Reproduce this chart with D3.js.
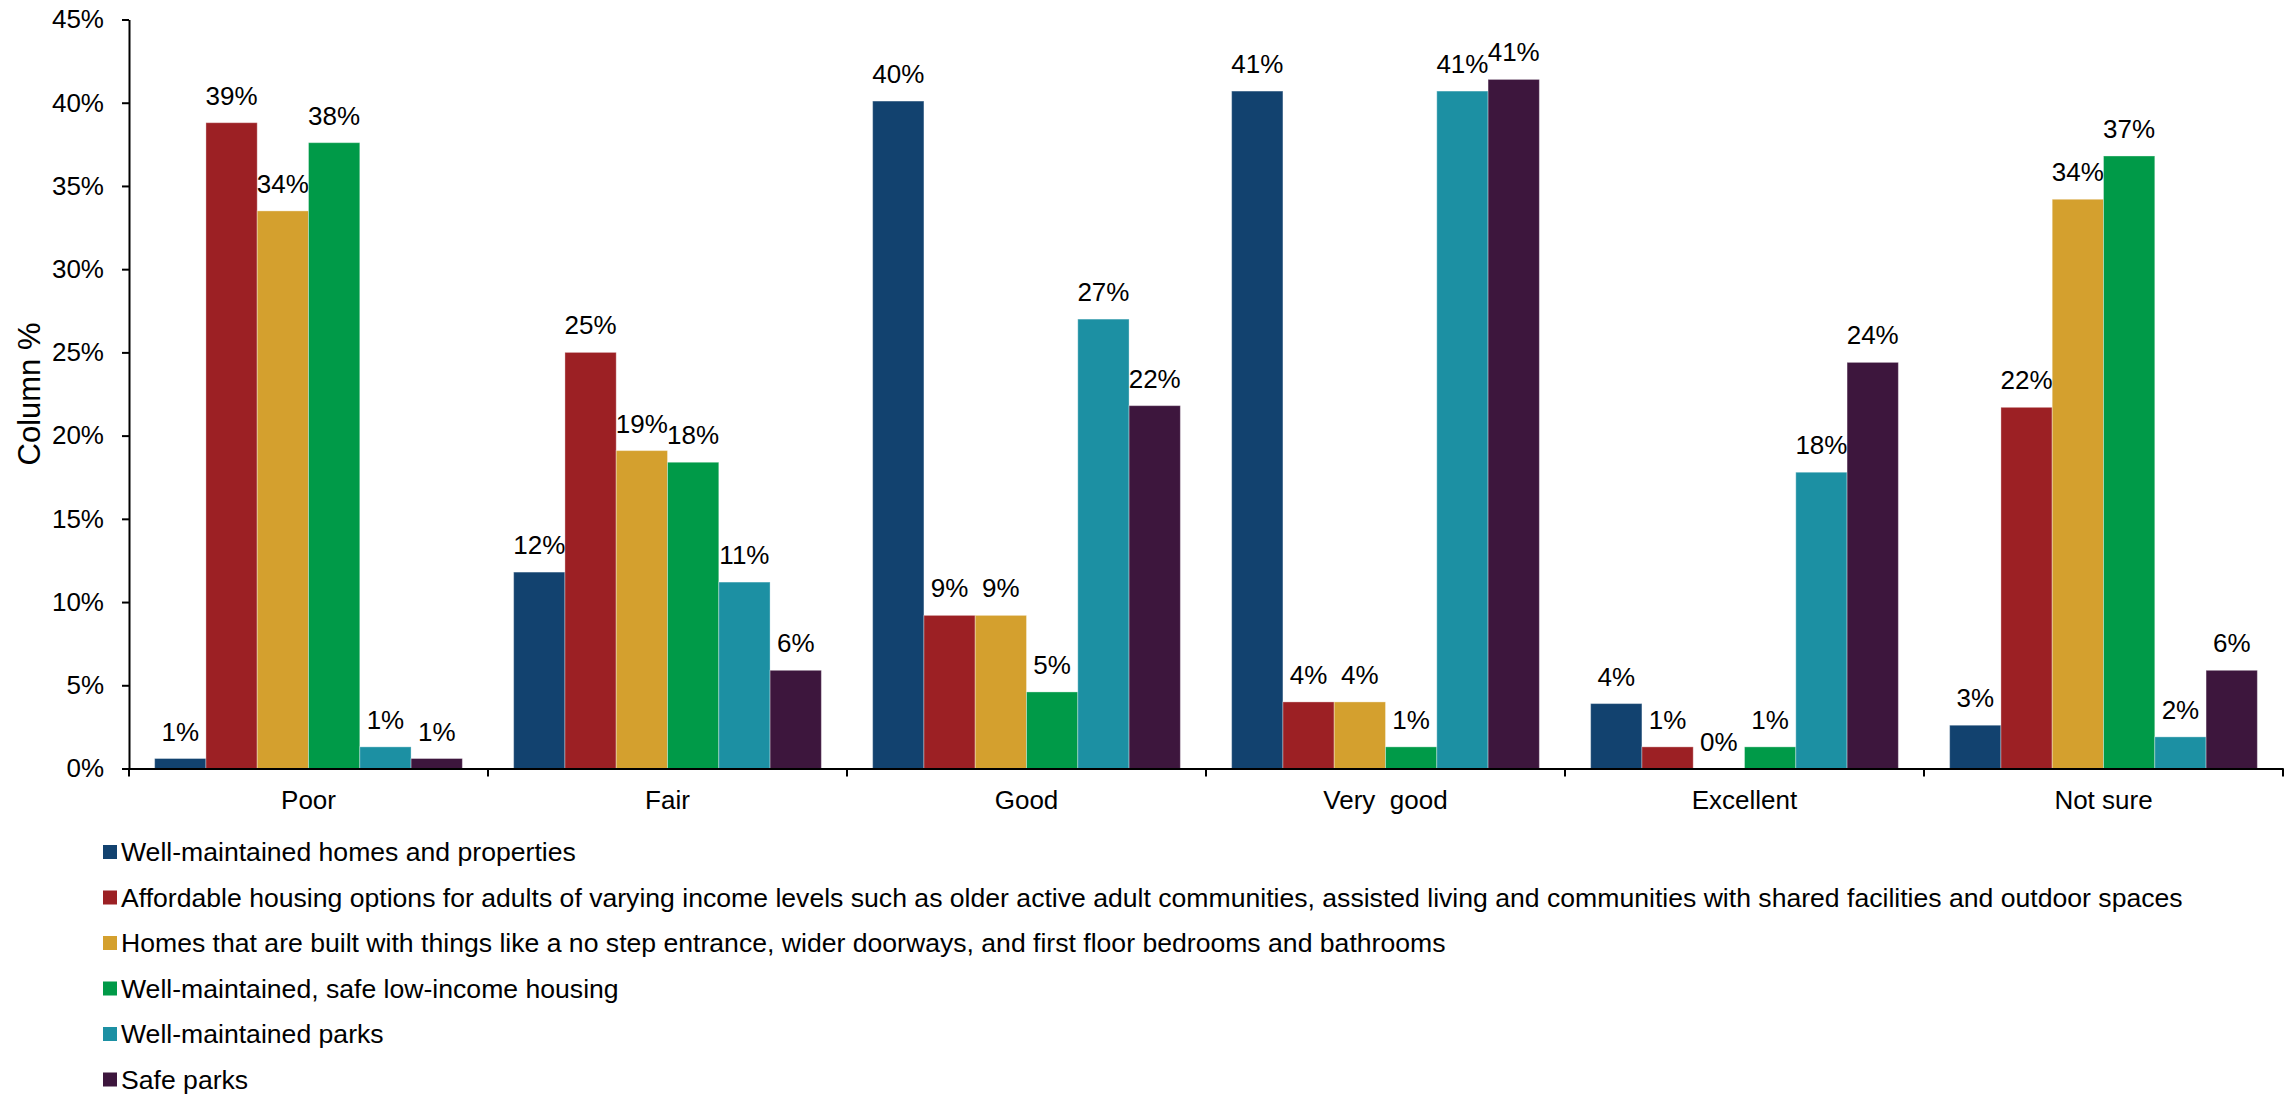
<!DOCTYPE html>
<html><head><meta charset="utf-8">
<script src="https://cdn.jsdelivr.net/npm/d3@7"></script>
<style>
html,body{margin:0;padding:0;background:#fff;}
svg{display:block;font-family:"Liberation Sans",Arial,sans-serif;}
</style></head>
<body>
<svg id="chart" width="2292" height="1097"></svg>
<script>
const categories = ["Poor", "Fair", "Good", "Very  good", "Excellent", "Not sure"];
const seriesNames = [
  "Well-maintained homes and properties",
  "Affordable housing options for adults of varying income levels such as older active adult communities, assisted living and communities with shared facilities and outdoor spaces",
  "Homes that are built with things like a no step entrance, wider doorways, and first floor bedrooms and bathrooms",
  "Well-maintained, safe low-income housing",
  "Well-maintained parks",
  "Safe parks"
];
const seriesColors = ["#12426F", "#9C2024", "#D4A02E", "#009A48", "#1C90A3", "#3D163D"];
const homesProperties = [0.6, 11.8, 40.1, 40.7, 3.9, 2.6];
const affordableHousing = [38.8, 25.0, 9.2, 4.0, 1.3, 21.7];
const accessibleHomes = [33.5, 19.1, 9.2, 4.0, 0.0, 34.2];
const lowIncomeHousing = [37.6, 18.4, 4.6, 1.3, 1.3, 36.8];
const maintainedParks = [1.3, 11.2, 27.0, 40.7, 17.8, 1.9];
const safeParks = [0.6, 5.9, 21.8, 41.4, 24.4, 5.9];
const seriesValues = [homesProperties, affordableHousing, accessibleHomes, lowIncomeHousing, maintainedParks, safeParks];
const yTicks = [0, 5, 10, 15, 20, 25, 30, 35, 40, 45];
const yTitle = "Column %";

const svg = d3.select("#chart");
const FONT = 26;
const LEGEND_FONT = 26.6;
const TITLE_FONT = 31;
const plotLeft = 129, plotRight = 2283, plotTop = 19.5, plotBottom = 768.5;

const x0 = d3.scaleBand().domain(categories).range([plotLeft, plotRight]).padding(0);
const x1 = d3.scaleBand().domain(d3.range(seriesNames.length)).range([0, x0.bandwidth()]).paddingInner(0).paddingOuter(0.5);
const y = d3.scaleLinear().domain([0, 45]).range([plotBottom, plotTop]);

// bars
const groups = svg.append("g").selectAll("g").data(categories).join("g")
  .attr("transform", d => `translate(${x0(d)},0)`);
groups.each(function(cat, ci) {
  const g = d3.select(this);
  const data = seriesValues.map((vals, si) => ({si, v: vals[ci]}));
  g.selectAll("rect").data(data).join("rect")
    .attr("x", d => x1(d.si))
    .attr("y", d => y(d.v))
    .attr("width", x1.bandwidth())
    .attr("height", d => y(0) - y(d.v))
    .attr("fill", d => seriesColors[d.si])
    .attr("stroke", "rgba(255,255,255,0.35)")
    .attr("stroke-width", 1);
  g.selectAll("text").data(data).join("text")
    .attr("x", d => x1(d.si) + x1.bandwidth() / 2)
    .attr("y", d => y(d.v) - 18)
    .attr("text-anchor", "middle")
    .attr("font-size", FONT)
    .attr("fill", "#000")
    .text(d => Math.round(d.v) + "%");
});

// y axis
const yAxis = svg.append("g").attr("transform", `translate(${plotLeft},0)`)
  .call(d3.axisLeft(y).tickValues(yTicks).tickFormat(d => d + "%").tickSize(7).tickSizeOuter(0).tickPadding(18));
yAxis.select(".domain").attr("stroke", "#000").attr("stroke-width", 2);
yAxis.selectAll(".tick line").attr("stroke", "#000").attr("stroke-width", 2);
yAxis.selectAll(".tick text").attr("font-size", FONT).attr("fill", "#000").attr("font-family", "Liberation Sans, Arial, sans-serif");

// x axis
const xAxis = svg.append("g").attr("transform", `translate(0,${y(0)})`)
  .call(d3.axisBottom(x0).tickSize(0).tickSizeOuter(0).tickPadding(22));
xAxis.select(".domain").attr("stroke", "#000").attr("stroke-width", 2);
xAxis.selectAll(".tick text").attr("font-size", FONT).attr("fill", "#000")
  .attr("font-family", "Liberation Sans, Arial, sans-serif").style("white-space", "pre");
const boundaries = categories.map(c => x0(c)).concat([x0.range()[1]]);
svg.append("g").selectAll("line").data(boundaries).join("line")
  .attr("x1", d => d).attr("x2", d => d)
  .attr("y1", y(0)).attr("y2", y(0) + 8)
  .attr("stroke", "#000").attr("stroke-width", 2);

// y title
svg.append("text")
  .attr("transform", `translate(40,${(plotTop + plotBottom) / 2}) rotate(-90)`)
  .attr("text-anchor", "middle")
  .attr("font-size", TITLE_FONT)
  .attr("fill", "#000")
  .text(yTitle);

// legend
const legend = svg.append("g").selectAll("g").data(seriesNames).join("g")
  .attr("transform", (d, i) => `translate(103,${852 + i * 45.5})`);
legend.append("rect").attr("x", 0).attr("y", -7).attr("width", 14).attr("height", 14)
  .attr("fill", (d, i) => seriesColors[i]);
legend.append("text").attr("x", 18).attr("y", 0).attr("dy", "0.35em")
  .attr("font-size", LEGEND_FONT).attr("fill", "#000").text(d => d);
</script>
</body></html>
